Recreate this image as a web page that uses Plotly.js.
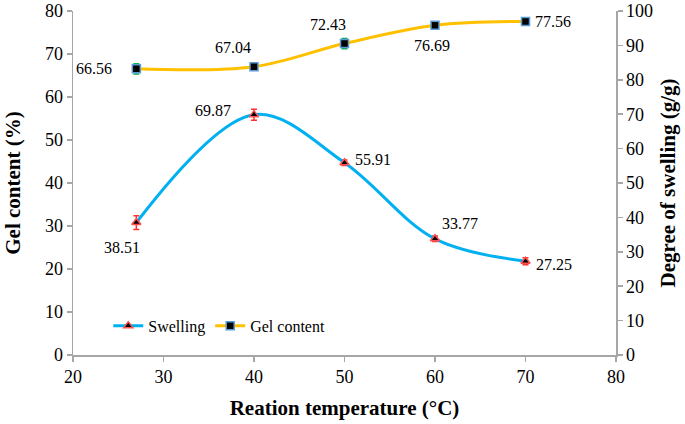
<!DOCTYPE html>
<html>
<head>
<meta charset="utf-8">
<script src="https://cdn.plot.ly/plotly-3.0.1.min.js"></script>
<style>html,body{margin:0;padding:0;background:#fff;}#chart{width:685px;height:424px;}</style>
</head>
<body>
<div id="chart"></div>
<script>
var temperature = [27, 40, 50, 60, 70];
var swelling = [38.51, 69.87, 55.91, 33.77, 27.25];
var swellingErr = [2.0, 1.6, 0.8, 0.8, 1.0];
var gelContent = [66.56, 67.04, 72.43, 76.69, 77.56];
var gelErr = [1.2, 0.5, 1.2, 0.4, 0.8];
var swellingLabels = ["38.51", "69.87", "55.91", "33.77", "27.25"];
var gelLabels = ["66.56", "67.04", "72.43", "76.69", "77.56"];

var font = "Liberation Serif, Times New Roman, serif";

var traces = [
  {
    x: temperature, y: swelling, yaxis: 'y2', name: 'Swelling',
    type: 'scatter', mode: 'lines+markers',
    line: {color: '#00b0f0', width: 3, shape: 'spline', smoothing: 1},
    marker: {symbol: 'triangle-up', size: 8, color: '#000000', line: {color: '#ff5050', width: 1.5}},
    error_y: {type: 'data', array: swellingErr, visible: true, color: '#ff3030', thickness: 1.5, width: 3}
  },
  {
    x: temperature, y: gelContent, yaxis: 'y', name: 'Gel content',
    type: 'scatter', mode: 'lines+markers',
    line: {color: '#ffc000', width: 3, shape: 'spline', smoothing: 1},
    marker: {symbol: 'square', size: 8, color: '#000000', line: {color: '#5b9bd5', width: 1.5}},
    error_y: {type: 'data', array: gelErr, visible: true, color: '#00b050', thickness: 1.5, width: 3}
  }
];

var swellOffsets = [[-14, -25], [-21, 4], [8, 3], [25, 15], [28, -3]];
var swellAnchors = ['center', 'right', 'left', 'center', 'center'];
var gelOffsets = [[-42, 0], [-21, 19], [-17, 19], [-3, -20], [27, 0]];

var annotations = [];
for (var i = 0; i < temperature.length; i++) {
  annotations.push({x: temperature[i], y: swelling[i], xref: 'x', yref: 'y2', text: swellingLabels[i],
    showarrow: false, xshift: swellOffsets[i][0], yshift: swellOffsets[i][1],
    xanchor: swellAnchors[i], font: {family: font, size: 16, color: '#000'}});
  annotations.push({x: temperature[i], y: gelContent[i], xref: 'x', yref: 'y', text: gelLabels[i],
    showarrow: false, xshift: gelOffsets[i][0], yshift: gelOffsets[i][1],
    font: {family: font, size: 16, color: '#000'}});
}

function axisBase() {
  return {
    showgrid: false, zeroline: false, showline: true, linecolor: '#a6a6a6', linewidth: 1.5,
    ticks: 'outside', tickcolor: '#a6a6a6', ticklen: 5, tickwidth: 1.5,
    tickfont: {family: font, size: 18, color: '#000'}
  };
}

var layout = {
  width: 685, height: 424,
  margin: {l: 73, r: 69, t: 11, b: 69},
  paper_bgcolor: '#fff', plot_bgcolor: '#fff',
  font: {family: font, size: 16, color: '#000'},
  showlegend: true,
  legend: {x: 0.065, y: 0.085, xanchor: 'left', yanchor: 'middle', orientation: 'h',
    font: {family: font, size: 16, color: '#000'}, bgcolor: 'rgba(0,0,0,0)', itemwidth: 30},
  xaxis: Object.assign(axisBase(), {range: [20, 80], dtick: 10, tick0: 20,
    title: {text: '<b>Reation temperature (°C)</b>', font: {family: font, size: 21, color: '#000'}, standoff: 14}}),
  yaxis: Object.assign(axisBase(), {range: [0, 80], dtick: 10,
    title: {text: '<b>Gel content (%)</b>', font: {family: font, size: 21, color: '#000'}, standoff: 18}}),
  yaxis2: Object.assign(axisBase(), {range: [0, 100], dtick: 10, overlaying: 'y', side: 'right',
    title: {text: '<b>Degree of swelling (g/g)</b>', font: {family: font, size: 21, color: '#000'}, standoff: 8}}),
  annotations: annotations
};

Plotly.newPlot('chart', traces, layout, {displayModeBar: false, staticPlot: true});
</script>
</body>
</html>
